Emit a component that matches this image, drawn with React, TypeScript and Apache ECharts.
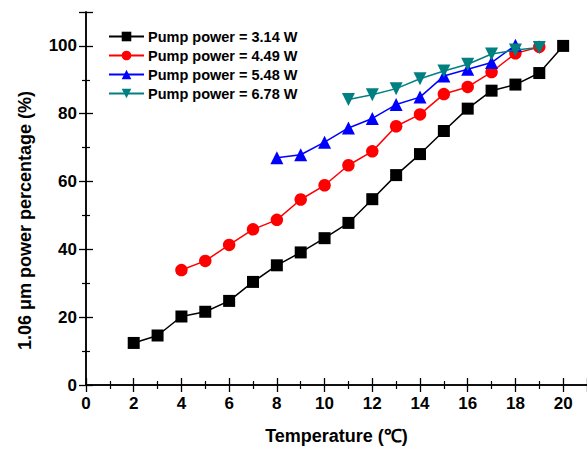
import React, { useEffect, useRef } from "react";
import * as echarts from "echarts";

const seriesNames = [
  "Pump power = 3.14 W",
  "Pump power = 4.49 W",
  "Pump power = 5.48 W",
  "Pump power = 6.78 W",
];
const temps1 = [2, 3, 4, 5, 6, 7, 8, 9, 10, 11, 12, 13, 14, 15, 16, 17, 18, 19, 20];
const values1 = [12.4, 14.6, 20.2, 21.6, 24.8, 30.4, 35.3, 39.1, 43.3, 47.8, 54.8, 61.9, 68.1, 74.9, 81.5, 86.8, 88.6, 92.0, 100];
const temps2 = [4, 5, 6, 7, 8, 9, 10, 11, 12, 13, 14, 15, 16, 17, 18, 19];
const values2 = [33.9, 36.6, 41.3, 45.9, 48.7, 54.7, 58.9, 64.8, 68.9, 76.3, 79.8, 85.8, 87.9, 92.3, 97.8, 99.7];
const temps3 = [8, 9, 10, 11, 12, 13, 14, 15, 16, 17, 18];
const values3 = [67.0, 67.9, 71.6, 75.8, 78.6, 82.7, 84.9, 91.1, 93.1, 95.1, 100.2];
const temps4 = [11, 12, 13, 14, 15, 16, 17, 18, 19];
const values4 = [84.2, 85.6, 87.4, 90.3, 92.6, 94.6, 97.6, 98.8, 99.5];

const colors = ["#000000", "#ff0000", "#0000ff", "#008080"];
const symbols = ["rect", "circle", "triangle", "path://M0,0 L10,0 L5,9 Z"];
const symbolSizes = [12, 12.5, 13, 13];

const FONT = "'Liberation Sans', Arial, sans-serif";

export default function App() {
  const ref = useRef<HTMLDivElement>(null);
  useEffect(() => {
    if (!ref.current) return;
    const chart = echarts.init(ref.current, undefined, { renderer: "svg" });
    const temps = [temps1, temps2, temps3, temps4];
    const vals = [values1, values2, values3, values4];
    const axisLine = { show: true, lineStyle: { color: "#000", width: 1.5 } };
    const tick = { show: true, inside: true, length: 7, lineStyle: { color: "#000", width: 1.3 } };
    const minor = { show: true, splitNumber: 2, length: 4, lineStyle: { color: "#000", width: 1.2 } };
    const labelStyle = {
      fontFamily: FONT,
      fontWeight: "bold",
      fontSize: 17,
      color: "#000",
      showMaxLabel: false,
    };
    chart.setOption({
      animation: false,
      backgroundColor: "#ffffff",
      textStyle: { fontFamily: FONT },
      grid: { left: 86, top: 12, width: 509, bottom: 64.7, containLabel: false },
      legend: {
        orient: "vertical",
        left: 108,
        top: 29,
        padding: 0,
        itemWidth: 35,
        itemHeight: 12,
        itemGap: 4,
        textStyle: { fontFamily: FONT, fontWeight: "bold", fontSize: 14.5, color: "#000", padding: [0, 0, 0, -1] },
        data: seriesNames,
      },
      xAxis: [
        {
          type: "value",
          min: 0,
          max: 21,
          interval: 2,
          name: "Temperature (\u2103)",
          nameLocation: "middle",
          nameGap: 42,
          nameTextStyle: { fontFamily: FONT, fontWeight: "bold", fontSize: 18, color: "#000" },
          axisLine,
          axisTick: tick,
          minorTick: minor,
          splitLine: { show: false },
          axisLabel: { ...labelStyle, margin: 10 },
        },
        {
          type: "value",
          position: "top",
          min: 0,
          max: 21,
          interval: 2,
          axisLine,
          axisTick: tick,
          minorTick: minor,
          splitLine: { show: false },
          axisLabel: { show: false },
        },
      ],
      yAxis: [
        {
          type: "value",
          min: 0,
          max: 110,
          interval: 20,
          name: "1.06 \u03bcm power percentage (%)",
          nameLocation: "middle",
          nameGap: 52,
          nameTextStyle: {
            fontFamily: FONT,
            fontWeight: "bold",
            fontSize: 18,
            color: "#000",
            padding: [0, 44, 0, 0],
          },
          axisLine,
          axisTick: tick,
          minorTick: minor,
          splitLine: { show: false },
          axisLabel: { ...labelStyle, margin: 9 },
        },
        {
          type: "value",
          position: "right",
          min: 0,
          max: 110,
          interval: 20,
          axisLine,
          axisTick: tick,
          minorTick: minor,
          splitLine: { show: false },
          axisLabel: { show: false },
        },
      ],
      series: seriesNames.map((name, i) => ({
        name,
        type: "line",
        data: temps[i].map((t, j) => [t, vals[i][j]]),
        symbol: symbols[i],
        symbolSize: symbolSizes[i],
        showSymbol: true,
        lineStyle: { color: colors[i], width: 1.5 },
        itemStyle: { color: colors[i] },
        z: 2 + i,
      })),
    });
    return () => chart.dispose();
  }, []);
  return (
    <div
      ref={ref}
      style={{ position: "absolute", left: 0, top: 0, width: 587, height: 450 }}
    />
  );
}
